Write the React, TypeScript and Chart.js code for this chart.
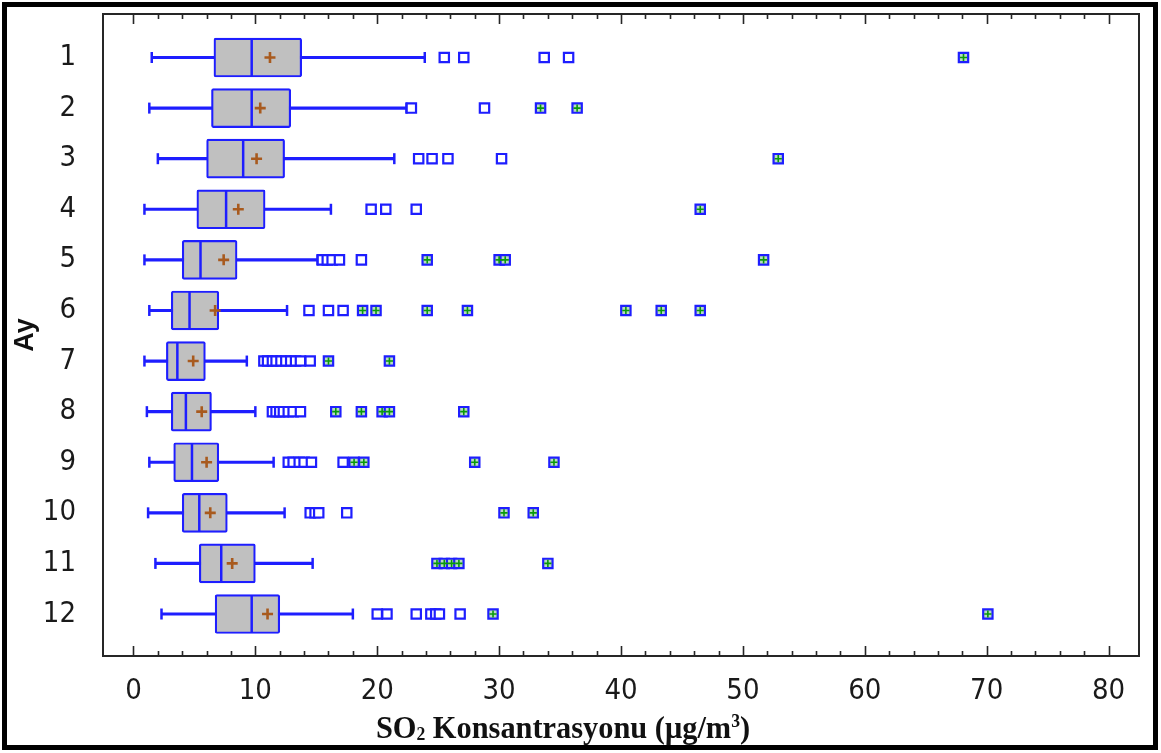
import { useEffect, useRef } from "react";
import { Chart, registerables } from "chart.js";

Chart.register(...registerables);

// ---- Data ----
const months = [1, 2, 3, 4, 5, 6, 7, 8, 9, 10, 11, 12];
const monthLabels = ["1", "2", "3", "4", "5", "6", "7", "8", "9", "10", "11", "12"];
const whiskerLow = [1.5, 1.3, 2.0, 0.9, 0.9, 1.3, 0.9, 1.1, 1.3, 1.2, 1.8, 2.3];
const q1 = [6.6, 6.4, 6.0, 5.2, 4.0, 3.1, 2.7, 3.1, 3.3, 4.0, 5.4, 6.7];
const medians = [9.7, 9.7, 9.0, 7.6, 5.5, 4.6, 3.6, 4.3, 4.8, 5.4, 7.2, 9.7];
const q3 = [13.8, 12.9, 12.4, 10.8, 8.5, 7.0, 5.9, 6.4, 7.0, 7.7, 10.0, 12.0];
const whiskerHigh = [23.9, 22.4, 21.4, 16.2, 15.1, 12.6, 9.3, 10.0, 11.5, 12.4, 14.7, 18.0];
const means = [11.2, 10.4, 10.1, 8.6, 7.4, 6.7, 4.9, 5.6, 6.0, 6.3, 8.1, 11.0];

const outliers1 = [25.5, 27.1, 33.7, 35.7];
const outliers2 = [22.8, 28.8];
const outliers3 = [23.4, 24.5, 25.8, 30.2];
const outliers4 = [19.5, 20.7, 23.2];
const outliers5 = [15.5, 15.9, 16.3, 16.9, 18.7];
const outliers6 = [14.4, 16.0, 17.2];
const outliers7 = [10.7, 11.0, 11.4, 11.7, 12.1, 12.5, 12.9, 13.3, 13.7, 14.5];
const outliers8 = [11.4, 11.7, 12.0, 12.3, 12.7, 13.1, 13.7];
const outliers9 = [12.7, 13.1, 13.6, 14.0, 14.6, 17.2];
const outliers10 = [14.5, 14.9, 15.2, 17.5];
const outliers11: number[] = [];
const outliers12 = [20.0, 20.8, 23.2, 24.4, 24.8, 25.1, 26.8];

const extremes1 = [68.1];
const extremes2 = [33.4, 36.4];
const extremes3 = [52.9];
const extremes4 = [46.5];
const extremes5 = [24.1, 30.0, 30.5, 51.7];
const extremes6 = [18.8, 19.9, 24.1, 27.4, 40.4, 43.3, 46.5];
const extremes7 = [16.0, 21.0];
const extremes8 = [16.6, 18.7, 20.4, 21.0, 27.1];
const extremes9 = [18.1, 18.9, 28.0, 34.5];
const extremes10 = [30.4, 32.8];
const extremes11 = [24.9, 25.5, 26.1, 26.7, 34.0];
const extremes12 = [29.5, 70.1];

const outliers = [outliers1, outliers2, outliers3, outliers4, outliers5, outliers6, outliers7, outliers8, outliers9, outliers10, outliers11, outliers12];
const extremes = [extremes1, extremes2, extremes3, extremes4, extremes5, extremes6, extremes7, extremes8, extremes9, extremes10, extremes11, extremes12];

const xMajorTicks = [0, 10, 20, 30, 40, 50, 60, 70, 80];
const xMinorStep = 2;

const yTitle = "Ay";
const xTitleParts = [
  { text: "SO", shift: 0 },
  { text: "2", shift: 1 },
  { text: " Konsantrasyonu (μg/m", shift: 0 },
  { text: "3", shift: -1 },
  { text: ")", shift: 0 },
];

const BLUE = "#1e1eff";
const TICK_FONT = '"Liberation Sans Narrow", "DejaVu Sans Condensed", "Liberation Sans", sans-serif';

const framePlugin = {
  id: "frameAndTicks",
  afterDraw(chart: any) {
    const { ctx, chartArea, scales } = chart;
    const { left, top, right, bottom } = chartArea;
    const x = scales.x;
    ctx.save();
    ctx.strokeStyle = "#262626";
    ctx.lineWidth = 2;
    ctx.strokeRect(left, top, right - left, bottom - top);
    ctx.lineWidth = 1.6;
    ctx.beginPath();
    x.ticks.forEach((t: any) => {
      const px = Math.round(x.getPixelForValue(t.value)) + 0.5;
      const len = xMajorTicks.includes(t.value) ? 10 : 5;
      ctx.moveTo(px, bottom);
      ctx.lineTo(px, bottom - len);
      ctx.moveTo(px, top);
      ctx.lineTo(px, top + len);
    });
    ctx.stroke();

    // x axis title with sub/superscript
    const big = 'bold 31px "Liberation Serif", "DejaVu Serif", serif';
    const small = 'bold 18px "Liberation Serif", "DejaVu Serif", serif';
    const hScale = 0.98;
    let total = 0;
    xTitleParts.forEach((p) => {
      ctx.font = p.shift === 0 ? big : small;
      total += ctx.measureText(p.text).width;
    });
    const cx = left + (right - left) * 0.444;
    const baseY = 738;
    ctx.translate(cx, baseY);
    ctx.scale(hScale, 1);
    let cur = -total / 2;
    ctx.fillStyle = "#111";
    ctx.textBaseline = "alphabetic";
    ctx.textAlign = "left";
    xTitleParts.forEach((p) => {
      ctx.font = p.shift === 0 ? big : small;
      const dy = p.shift === 1 ? 2 : p.shift === -1 ? -11 : 0;
      ctx.fillText(p.text, cur, dy);
      cur += ctx.measureText(p.text).width;
    });
    ctx.restore();
  },
};

export default function App() {
  const ref = useRef<HTMLCanvasElement>(null);

  useEffect(() => {
    const canvas = ref.current;
    if (!canvas) return;

    const whiskerData = months.map((m, i) => ({ y: m, x: [whiskerLow[i], whiskerHigh[i]] }));
    const boxData = months.map((m, i) => ({ y: m, x: [q1[i], q3[i]] }));
    const capData = [
      ...months.map((m, i) => ({ x: whiskerLow[i], y: m })),
      ...months.map((m, i) => ({ x: whiskerHigh[i], y: m })),
    ];
    const medianData = months.map((m, i) => ({ x: medians[i], y: m }));
    const meanData = months.map((m, i) => ({ x: means[i], y: m }));
    const outlierData = months.flatMap((m, i) => outliers[i].map((v) => ({ x: v, y: m })));
    const extremeData = months.flatMap((m, i) => extremes[i].map((v) => ({ x: v, y: m })));

    const chart = new Chart(canvas, {
      type: "scatter",
      data: {
        datasets: [
          {
            type: "bar",
            indexAxis: "y",
            grouped: false,
            data: whiskerData as any,
            backgroundColor: BLUE,
            borderWidth: 0,
            barThickness: 2.5,
            order: 10,
          } as any,
          {
            type: "bar",
            indexAxis: "y",
            grouped: false,
            data: boxData as any,
            backgroundColor: "#c0c0c0",
            borderColor: BLUE,
            borderWidth: 2.2,
            borderSkipped: false,
            borderRadius: 2,
            barThickness: 39,
            order: 9,
          } as any,
          {
            data: capData,
            pointStyle: "line",
            rotation: 90,
            radius: 5.5,
            borderColor: BLUE,
            borderWidth: 2.5,
            order: 8,
          } as any,
          {
            data: medianData,
            pointStyle: "line",
            rotation: 90,
            radius: 18.5,
            borderColor: BLUE,
            borderWidth: 2.5,
            order: 7,
          } as any,
          {
            data: outlierData,
            pointStyle: "rect",
            radius: 6.6,
            backgroundColor: "#ffffff",
            borderColor: BLUE,
            borderWidth: 2.2,
            order: 6,
          } as any,
          {
            data: extremeData,
            pointStyle: "rect",
            radius: 6.6,
            backgroundColor: "#b9dcc0",
            borderColor: BLUE,
            borderWidth: 2.2,
            order: 5,
          } as any,
          {
            data: extremeData,
            pointStyle: "cross",
            radius: 3.6,
            borderColor: "#0a9a0a",
            borderWidth: 1.6,
            order: 4,
          } as any,
          {
            data: meanData,
            pointStyle: "cross",
            radius: 5.5,
            borderColor: "#a85a1e",
            borderWidth: 2.6,
            order: 3,
          } as any,
        ],
      },
      options: {
        animation: false,
        responsive: false,
        events: [],
        layout: { autoPadding: false, padding: { left: 0, top: 14, right: 22, bottom: 0 } },
        plugins: {
          legend: { display: false },
          tooltip: { enabled: false },
        },
        scales: {
          x: {
            type: "linear",
            offset: false,
            min: -2.5,
            max: 82.5,
            afterBuildTicks: (axis: any) => {
              const ticks: any[] = [];
              for (let v = xMajorTicks[0]; v <= xMajorTicks[xMajorTicks.length - 1]; v += xMinorStep) ticks.push({ value: v });
              axis.ticks = ticks;
            },
            afterFit: (axis: any) => {
              axis.height = 97;
              axis.paddingLeft = 0;
              axis.paddingRight = 0;
            },
            grid: { display: false, drawTicks: false, offset: false },
            border: { display: false },
            ticks: {
              autoSkip: false,
              maxRotation: 0,
              padding: 18,
              color: "#1a1a1a",
              font: { family: TICK_FONT, size: 29 },
              callback: (v: any) => (xMajorTicks.includes(v) ? String(v) : ""),
            },
          },
          y: {
            type: "linear",
            offset: false,
            reverse: true,
            min: 0.14,
            max: 12.83,
            afterBuildTicks: (axis: any) => {
              axis.ticks = months.map((m) => ({ value: m }));
            },
            afterFit: (axis: any) => {
              axis.width = 103;
              axis.paddingTop = 0;
              axis.paddingBottom = 0;
            },
            grid: { display: false, drawTicks: false, offset: false },
            border: { display: false },
            ticks: {
              autoSkip: false,
              padding: 27,
              color: "#1a1a1a",
              font: { family: TICK_FONT, size: 29 },
              callback: (v: any) => monthLabels[months.indexOf(v)] ?? "",
            },
            title: {
              display: true,
              text: yTitle,
              color: "#111",
              padding: { top: 9, bottom: 0 },
              font: { family: '"Liberation Sans", Arial, sans-serif', size: 27, weight: "bold" },
            },
          },
        },
      },
      plugins: [framePlugin],
    });

    return () => chart.destroy();
  }, []);

  return (
    <div style={{ position: "fixed", left: 0, top: 0, width: 1161, height: 753, background: "#fff" }}>
      <canvas ref={ref} width={1161} height={753} style={{ display: "block", width: 1161, height: 753 }} />
      <div
        style={{
          position: "absolute",
          left: 2,
          top: 2,
          width: 1156,
          height: 748,
          border: "5px solid #000",
          boxSizing: "border-box",
          pointerEvents: "none",
        }}
      />
    </div>
  );
}
